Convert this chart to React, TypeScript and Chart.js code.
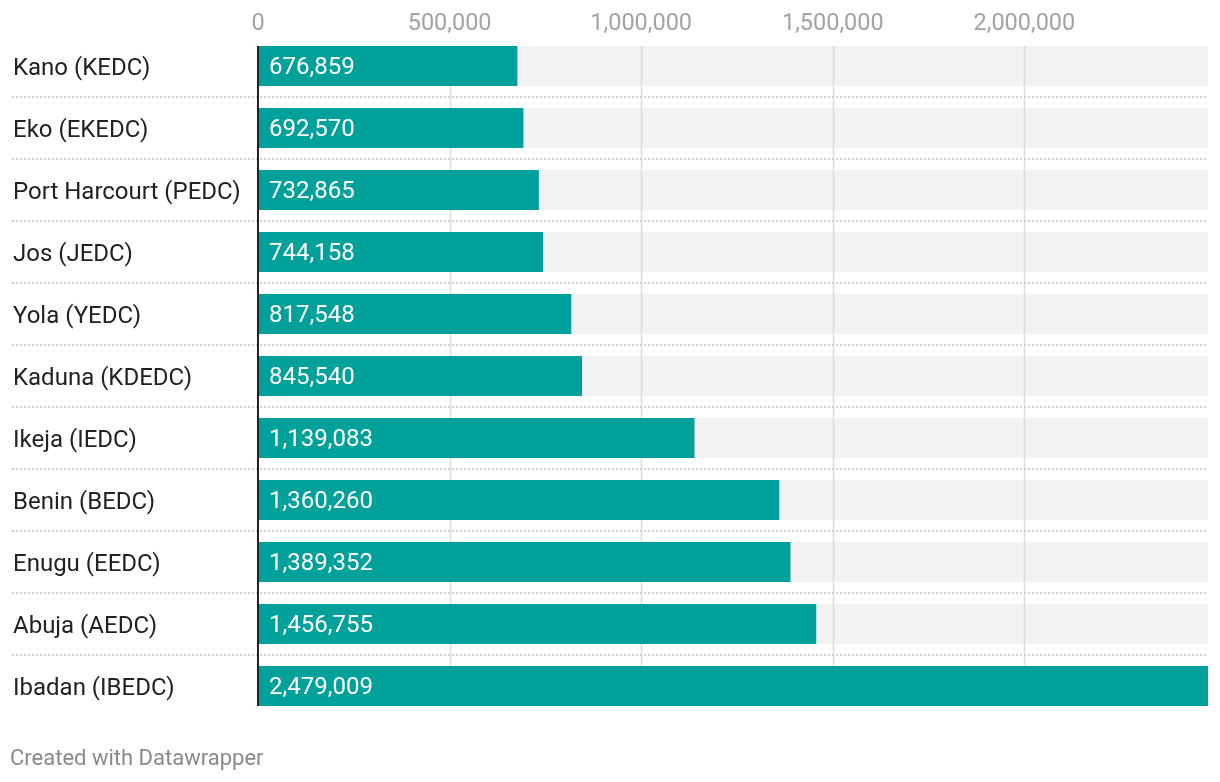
import React, { useEffect, useRef } from "react";
import { Chart, registerables } from "chart.js";

Chart.register(...registerables);

const categories = [
  "Kano (KEDC)",
  "Eko (EKEDC)",
  "Port Harcourt (PEDC)",
  "Jos (JEDC)",
  "Yola (YEDC)",
  "Kaduna (KDEDC)",
  "Ikeja (IEDC)",
  "Benin (BEDC)",
  "Enugu (EEDC)",
  "Abuja (AEDC)",
  "Ibadan (IBEDC)",
];

const values = [
  676859, 692570, 732865, 744158, 817548, 845540, 1139083, 1360260, 1389352,
  1456755, 2479009,
];

const tickValues = [0, 500000, 1000000, 1500000, 2000000];

const FONT = "Roboto, 'Noto Sans', sans-serif";
const TEAL = "#00a19a";
const fmt = (v: number) => v.toLocaleString("en-US");

const maxValue = Math.max(...values);

const decorPlugin = {
  id: "decor",
  beforeDatasetDraw(chart: any, args: any) {
    if (args.index !== 0) return;
    const { ctx, scales } = chart;
    const xs = scales.x;
    const meta = chart.getDatasetMeta(0);
    const first = meta.data[0];
    const last = meta.data[meta.data.length - 1];
    const top = first.y - first.height / 2;
    const bottom = last.y + last.height / 2;
    ctx.save();
    ctx.strokeStyle = "#dcdcdc";
    ctx.lineWidth = 1.5;
    tickValues.forEach((t) => {
      if (t === 0) return;
      const px = Math.round(xs.getPixelForValue(t)) + 0.5;
      ctx.beginPath();
      ctx.moveTo(px, top);
      ctx.lineTo(px, bottom);
      ctx.stroke();
    });
    ctx.restore();
  },
  afterDatasetsDraw(chart: any) {
    const { ctx, scales, chartArea } = chart;
    const xs = scales.x;
    const ys = scales.y;
    const meta = chart.getDatasetMeta(0);
    ctx.save();
    // dotted separators
    ctx.strokeStyle = "#cfcfcf";
    ctx.lineWidth = 2;
    ctx.setLineDash([2, 2]);
    for (let i = 0; i < categories.length - 1; i++) {
      const y = (ys.getPixelForValue(i) + ys.getPixelForValue(i + 1)) / 2;
      ctx.beginPath();
      ctx.moveTo(12, y);
      ctx.lineTo(chartArea.right, y);
      ctx.stroke();
    }
    ctx.setLineDash([]);
    // zero line
    const first = meta.data[0];
    const last = meta.data[meta.data.length - 1];
    const x0 = xs.getPixelForValue(0);
    ctx.strokeStyle = "#222";
    ctx.lineWidth = 2;
    ctx.beginPath();
    ctx.moveTo(x0, first.y - first.height / 2);
    ctx.lineTo(x0, last.y + last.height / 2);
    ctx.stroke();
    // value labels
    ctx.fillStyle = "#ffffff";
    ctx.font = `24px ${FONT}`;
    ctx.textAlign = "left";
    ctx.textBaseline = "middle";
    meta.data.forEach((el: any, i: number) => {
      ctx.fillText(fmt(values[i]), x0 + 11, el.y + 2);
    });
    ctx.restore();
  },
};

export default function App() {
  const ref = useRef<HTMLCanvasElement>(null);

  useEffect(() => {
    if (!ref.current) return;
    const chart = new Chart(ref.current, {
      type: "bar",
      data: {
        labels: categories,
        datasets: [
          {
            data: values,
            backgroundColor: TEAL,
            order: 1,
            grouped: false,
            barPercentage: 40 / 62,
            categoryPercentage: 1,
          } as any,
          {
            data: categories.map(() => maxValue),
            backgroundColor: "#f2f2f2",
            order: 2,
            grouped: false,
            barPercentage: 40 / 62,
            categoryPercentage: 1,
          } as any,
        ],
      },
      options: {
        indexAxis: "y",
        responsive: false,
        animation: false,
        devicePixelRatio: 1,
        layout: { padding: { left: 13, right: 12, top: 0, bottom: 65 } },
        plugins: {
          legend: { display: false },
          tooltip: { enabled: false },
        },
        scales: {
          x: {
            position: "top",
            min: 0,
            max: maxValue,
            grid: { display: false, drawTicks: false },
            border: { display: false },
            ticks: {
              stepSize: 500000,
              color: "#a3a3a3",
              font: { family: FONT, size: 23.5 },
              padding: -3,
              callback: (v: any) => fmt(Number(v)),
            },
            afterBuildTicks: (scale: any) => {
              scale.ticks = tickValues.map((v) => ({ value: v }));
            },
            afterFit: (scale: any) => {
              scale.height = 35;
            },
          },
          y: {
            grid: { display: false, drawTicks: false },
            border: { display: false },
            ticks: {
              color: "#222",
              crossAlign: "far",
              padding: 0,
              labelOffset: 3,
              font: { family: FONT, size: 24 },
            },
            afterFit: (scale: any) => {
              scale.width = 245;
            },
          },
        },
      },
      plugins: [decorPlugin],
    });
    return () => chart.destroy();
  }, []);

  return (
    <div style={{ position: "fixed", left: 0, top: 0, width: 1220, height: 782, background: "#fff" }}>
      <canvas ref={ref} width={1220} height={782} style={{ display: "block" }} />
      <div
        style={{
          position: "absolute",
          left: 10,
          top: 745,
          fontFamily: FONT,
          fontSize: 22,
          color: "#8a8a8a",
          lineHeight: "26px",
        }}
      >
        Created with Datawrapper
      </div>
    </div>
  );
}
